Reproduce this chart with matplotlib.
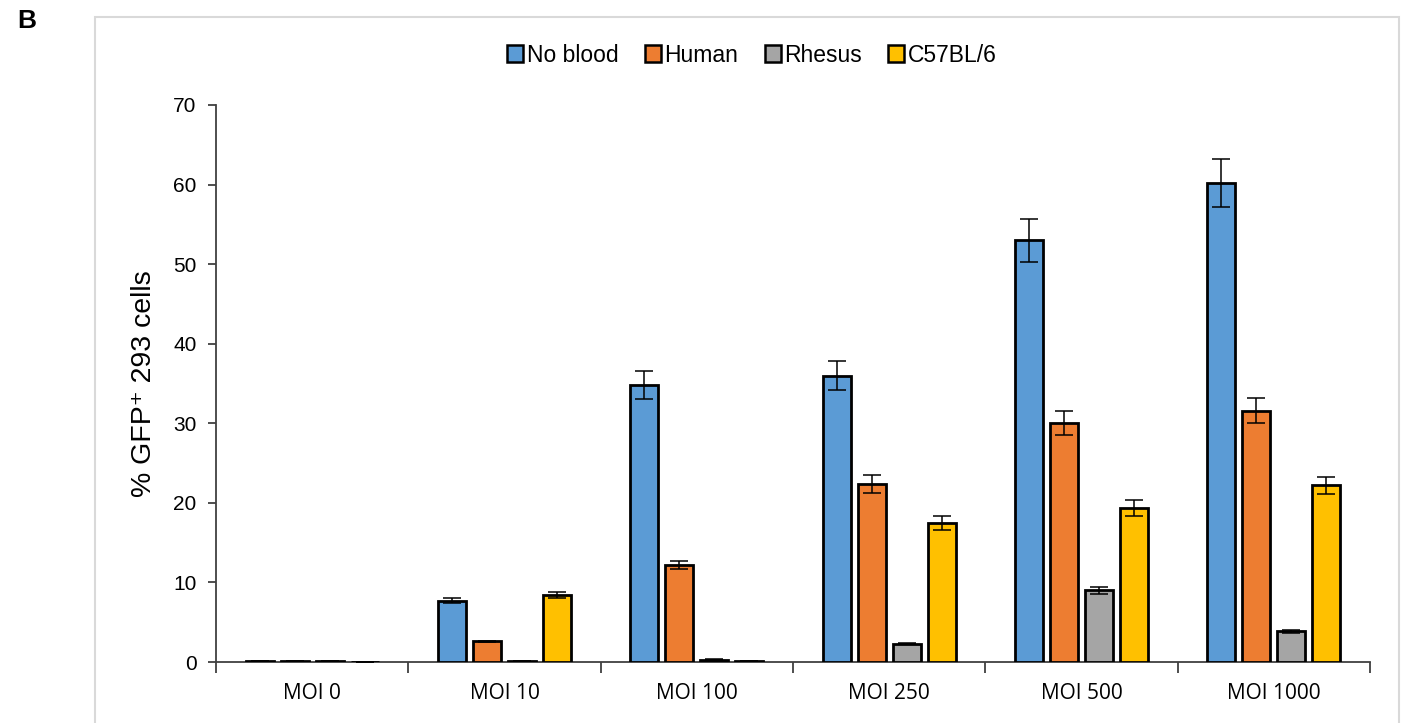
import numpy as np
import matplotlib
matplotlib.use("Agg")
import matplotlib.pyplot as plt
from matplotlib.patches import Rectangle

categories = ["MOI 0", "MOI 10", "MOI 100", "MOI 250", "MOI 500", "MOI 1000"]
series_names = ["No blood", "Human", "Rhesus", "C57BL/6"]
series_colors = ["#5B9BD5", "#ED7D31", "#A5A5A5", "#FFC000"]

no_blood = [0.1, 7.7, 34.8, 36.0, 53.0, 60.2]
no_blood_err = [0.0, 0.3, 1.8, 1.8, 2.7, 3.0]
human = [0.1, 2.6, 12.2, 22.4, 30.0, 31.6]
human_err = [0.0, 0.05, 0.5, 1.1, 1.5, 1.6]
rhesus = [0.1, 0.1, 0.3, 2.3, 9.0, 3.85]
rhesus_err = [0.0, 0.0, 0.05, 0.05, 0.45, 0.15]
c57bl6 = [0.05, 8.4, 0.1, 17.5, 19.4, 22.2]
c57bl6_err = [0.0, 0.4, 0.0, 0.9, 1.0, 1.1]

yticks = [0, 10, 20, 30, 40, 50, 60, 70]

values = [no_blood, human, rhesus, c57bl6]
errors = [no_blood_err, human_err, rhesus_err, c57bl6_err]

fig = plt.figure(figsize=(14.14, 7.23), dpi=100)

# light frame around the chart area
fig.patches.append(Rectangle((95 / 1414, -0.05), (1399 - 95) / 1414, 1.05 - 17 / 723,
                             transform=fig.transFigure, fill=False,
                             edgecolor="#D9D9D9", linewidth=1.5))

fig.text(17 / 1414, 1 - 21 / 723, "B", fontsize=19, fontweight="bold",
         family="Liberation Sans", va="center", ha="left")

ax = fig.add_axes([216 / 1414, 1 - 662 / 723, (1370 - 216) / 1414, (662 - 105) / 723])

x = np.arange(len(categories))
pitch = 0.182
width = 0.146
offsets = (np.arange(4) - 1.5) * pitch

handles = []
for i in range(4):
    b = ax.bar(x + offsets[i], values[i], width=width, color=series_colors[i],
               edgecolor="black", linewidth=2.0, label=series_names[i], zorder=3)
    handles.append(b)
    ax.errorbar(x + offsets[i], values[i], yerr=errors[i], fmt="none",
                ecolor="black", elinewidth=1.1, capsize=6.5, capthick=1.1, zorder=4)

ax.set_xlim(-0.5, len(categories) - 0.5)
ax.set_ylim(0, 70)
ax.set_yticks(yticks)
ax.set_yticklabels([str(v) for v in yticks], family="Liberation Sans", fontsize=15)

ax.set_xticks(x)
ax.set_xticklabels(categories, family="Open Sans", fontsize=15)
ax.tick_params(axis="x", which="major", length=0, pad=15)
ax.set_xticks(np.arange(len(categories) + 1) - 0.5, minor=True)
ax.tick_params(axis="x", which="minor", length=8, width=1.3, color="#404040", direction="out")
ax.tick_params(axis="y", length=6, width=1.3, color="#404040", direction="out", pad=8)

for s in ["top", "right"]:
    ax.spines[s].set_visible(False)
for s in ["left", "bottom"]:
    ax.spines[s].set_color("#404040")
    ax.spines[s].set_linewidth(1.3)

ax.set_ylabel("% GFP\u207a 293 cells", family=["Liberation Sans", "DejaVu Sans"],
              fontsize=20.5, labelpad=12)

leg = fig.legend(handles=handles, labels=series_names, loc="center",
                 bbox_to_anchor=(752 / 1414, 1 - 55 / 723), ncol=4, frameon=False,
                 prop={"family": "Liberation Sans", "size": 16.5},
                 handlelength=0.7, handleheight=0.7, handletextpad=0.15,
                 columnspacing=1.15)
for h in leg.legend_handles:
    h.set_linewidth(1.8)

fig.savefig("out.png", dpi=100)
